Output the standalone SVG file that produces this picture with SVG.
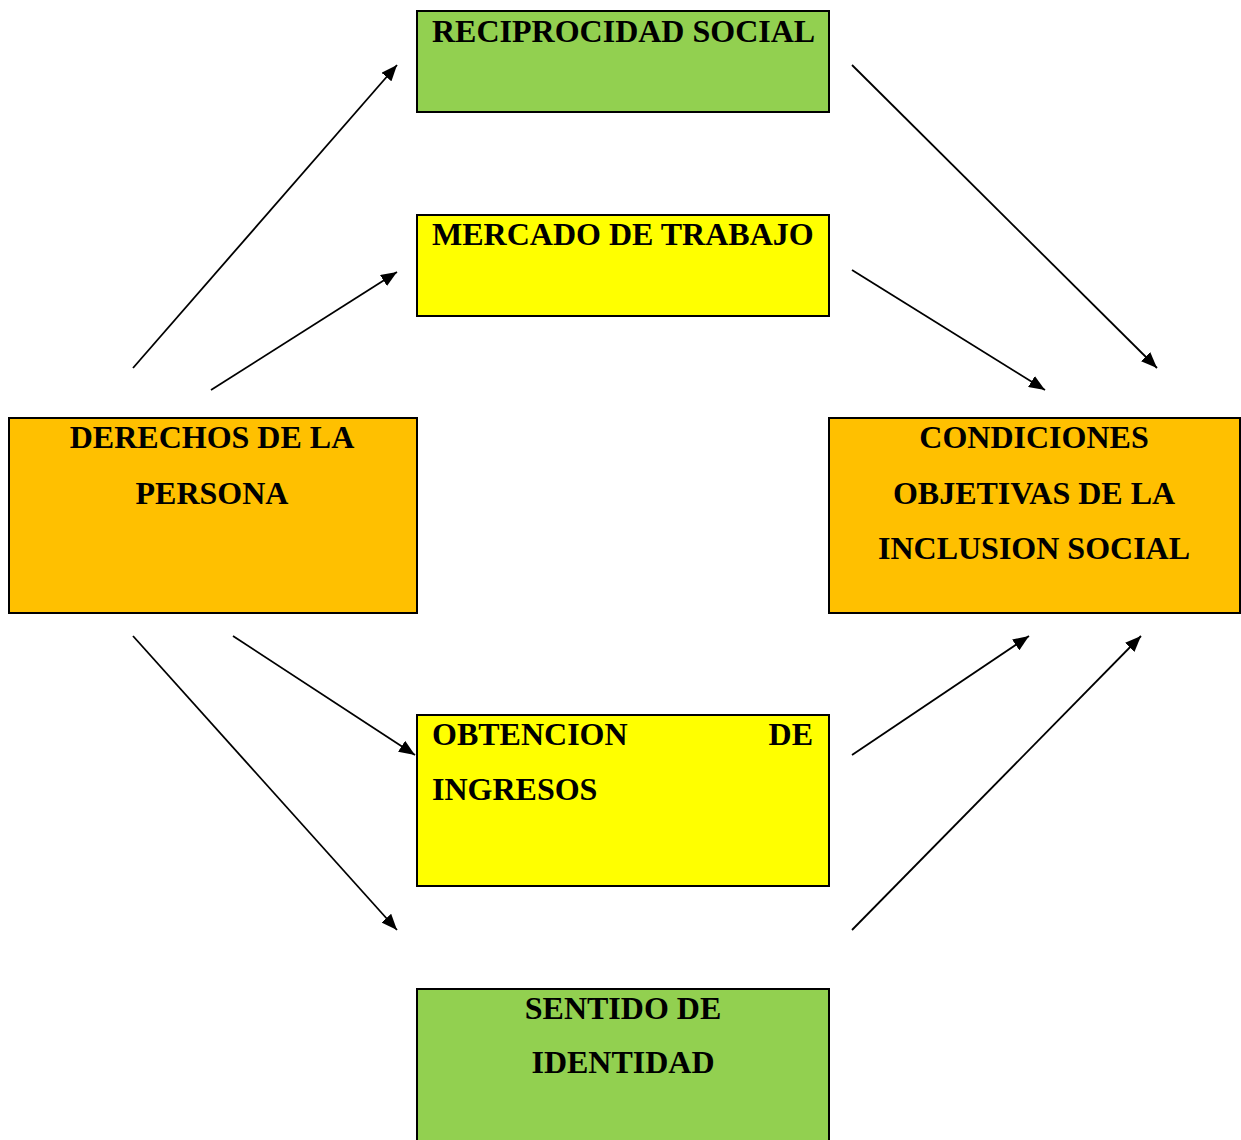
<svg xmlns="http://www.w3.org/2000/svg" width="1241" height="1140" viewBox="0 0 1241 1140">
<style>
.box{stroke:#000;stroke-width:2}
.g{fill:#92D050}.y{fill:#FFFF00}.o{fill:#FFC000}
text{font-family:"Liberation Serif","Times New Roman",serif;font-weight:bold;font-size:32px;fill:#000}
.c{text-anchor:middle}
.conn line{stroke:#000;stroke-width:1.8;marker-end:url(#ah)}
</style>
<defs>
<marker id="ah" markerUnits="userSpaceOnUse" markerWidth="17" markerHeight="13" refX="16" refY="6.5" orient="auto">
<path d="M0,0 L16,6.5 L0,13 z" fill="#000"/>
</marker>
</defs>
<rect width="1241" height="1140" fill="#fff"/>
<g id="reciprocidad"><rect class="box g" x="417" y="11" width="412" height="101"/><text x="432" y="42">RECIPROCIDAD SOCIAL</text></g>
<g id="mercado"><rect class="box y" x="417" y="215" width="412" height="101"/><text x="432" y="245">MERCADO DE TRABAJO</text></g>
<g id="derechos"><rect class="box o" x="9" y="418" width="408" height="195"/><text class="c" x="212" y="448">DERECHOS DE LA</text><text class="c" x="212" y="504">PERSONA</text></g>
<g id="condiciones"><rect class="box o" x="829" y="418" width="411" height="195"/><text class="c" x="1034" y="448">CONDICIONES</text><text class="c" x="1034" y="504">OBJETIVAS DE LA</text><text class="c" x="1034" y="559">INCLUSION SOCIAL</text></g>
<g id="obtencion"><rect class="box y" x="417" y="715" width="412" height="171"/><text x="432" y="745">OBTENCION</text><text x="813" y="745" style="text-anchor:end">DE</text><text x="432" y="800">INGRESOS</text></g>
<g id="sentido"><rect class="box g" x="417" y="989" width="412" height="160"/><text class="c" x="623" y="1019">SENTIDO DE</text><text class="c" x="623" y="1073">IDENTIDAD</text></g>
<g id="connectors" class="conn">
<line x1="133" y1="368" x2="397" y2="65"/>
<line x1="211" y1="390" x2="397" y2="272"/>
<line x1="852" y1="65" x2="1157" y2="368"/>
<line x1="852" y1="270" x2="1045" y2="390"/>
<line x1="133" y1="636" x2="397" y2="930"/>
<line x1="233" y1="636" x2="415" y2="755"/>
<line x1="852" y1="755" x2="1029" y2="636"/>
<line x1="852" y1="930" x2="1141" y2="636"/>
</g>
</svg>
